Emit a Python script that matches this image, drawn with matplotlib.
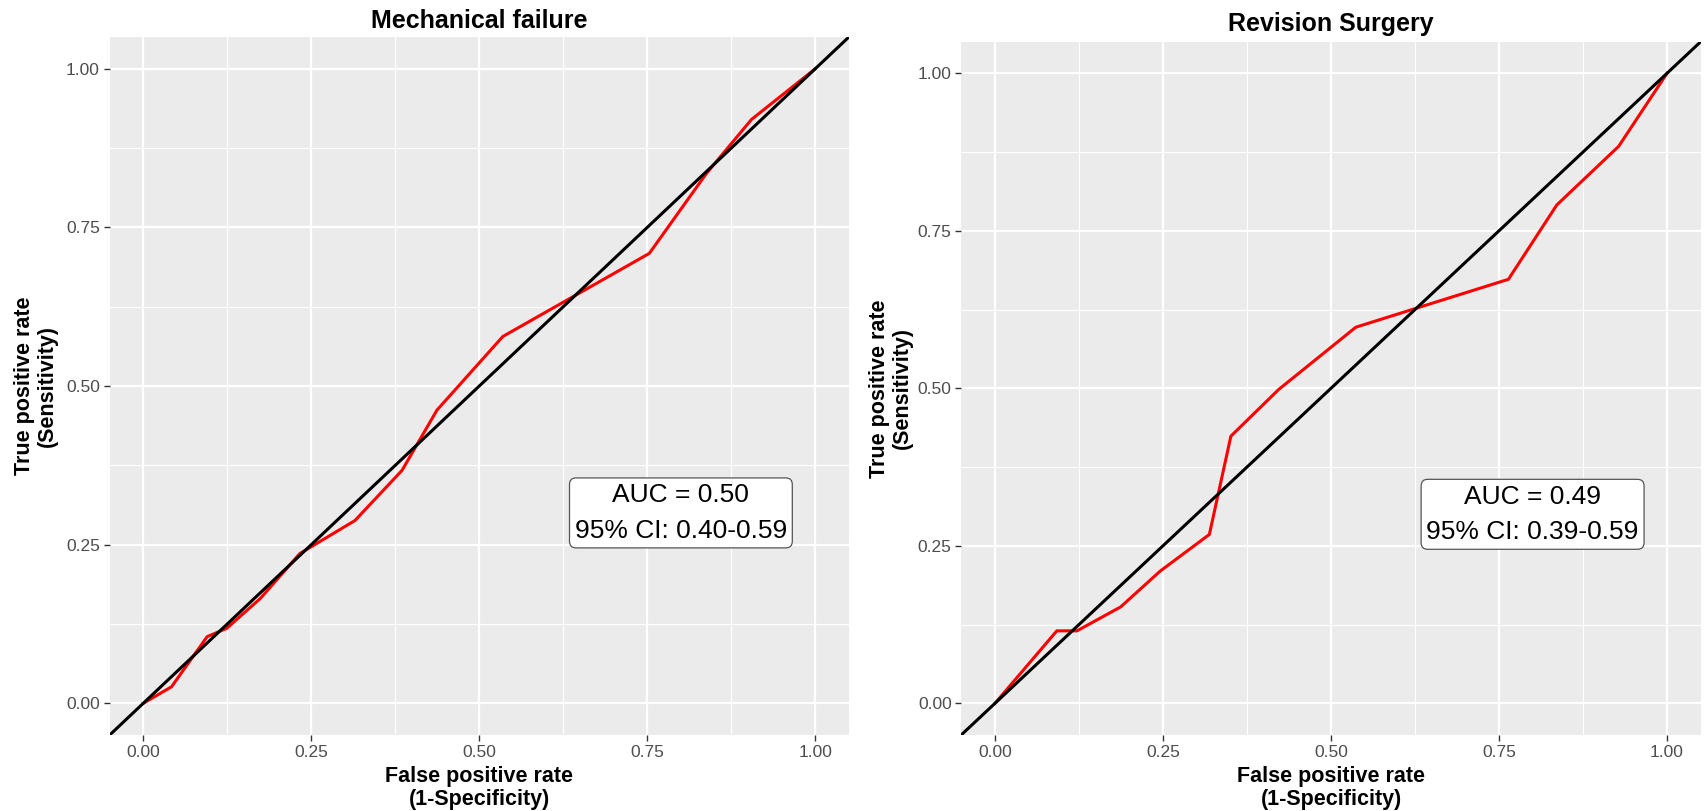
import matplotlib
matplotlib.use("Agg")
import matplotlib.pyplot as plt
import numpy as np

plt.rcParams['font.family'] = ['Liberation Sans', 'DejaVu Sans']

# ---- data ----
titles = ["Mechanical failure", "Revision Surgery"]
mech_fpr = [0.0, 0.042, 0.095, 0.124, 0.174, 0.233, 0.315, 0.385, 0.437, 0.535, 0.753, 0.838, 0.905, 1.0]
mech_tpr = [0.0, 0.026, 0.105, 0.118, 0.165, 0.236, 0.288, 0.367, 0.462, 0.578, 0.709, 0.835, 0.920, 1.0]
rev_fpr = [0.0, 0.092, 0.122, 0.187, 0.246, 0.319, 0.351, 0.422, 0.537, 0.764, 0.836, 0.928, 1.0]
rev_tpr = [0.0, 0.115, 0.115, 0.153, 0.210, 0.268, 0.424, 0.498, 0.597, 0.673, 0.791, 0.884, 1.0]
auc_labels = ["AUC = 0.50\n95% CI: 0.40-0.59", "AUC = 0.49\n95% CI: 0.39-0.59"]
ticks = [0.0, 0.25, 0.5, 0.75, 1.0]
tick_labels = ["0.00", "0.25", "0.50", "0.75", "1.00"]
minor = [0.125, 0.375, 0.625, 0.875]

W, H = 1705, 811
fig = plt.figure(figsize=(W / 100, H / 100), dpi=100)

# panel rects in pixels: left, top, right, bottom
rects = [(109.7, 37.0, 848.9, 735.0), (961.4, 41.8, 1700.6, 734.8)]
ylab_x = [58.0, 913.0]
title_pad = [9, 11]
series = [(mech_fpr, mech_tpr), (rev_fpr, rev_tpr)]

for i in range(2):
    l, t, r, b = rects[i]
    ax = fig.add_axes([l / W, 1 - b / H, (r - l) / W, (b - t) / H])
    ax.set_facecolor('#EBEBEB')
    ax.set_xlim(-0.05, 1.05)
    ax.set_ylim(-0.05, 1.05)
    for s in ax.spines.values():
        s.set_visible(False)
    ax.set_xticks(ticks)
    ax.set_xticklabels(tick_labels)
    ax.set_yticks(ticks)
    ax.set_yticklabels(tick_labels)
    ax.set_xticks(minor, minor=True)
    ax.set_yticks(minor, minor=True)
    ax.tick_params(which='major', length=4, width=1, color='#333333',
                   labelsize=12.5, labelcolor='#4D4D4D', pad=3)
    ax.tick_params(which='minor', length=0)
    ax.grid(which='major', color='white', linewidth=1.6)
    ax.grid(which='minor', color='white', linewidth=0.8)
    ax.set_axisbelow(True)

    fx, ty = series[i]
    ax.plot(fx, ty, color='#FF0000', linewidth=2.2, solid_joinstyle='round', zorder=3)
    ax.axline((0, 0), (1, 1), color='black', linewidth=2.2, zorder=4)

    ax.text(0.80, 0.30, auc_labels[i], ha='center', va='center', fontsize=19,
            linespacing=1.6, color='black', zorder=5,
            bbox=dict(boxstyle='round,pad=0.2,rounding_size=0.25', facecolor='white',
                      edgecolor='#555555', linewidth=0.9))

    ax.set_title(titles[i], fontsize=18, fontweight='bold', pad=title_pad[i] * 0.72)
    ax.set_xlabel("False positive rate\n(1-Specificity)", fontsize=15.5,
                  fontweight='bold', linespacing=1.1)
    ax.set_ylabel("True positive rate\n(Sensitivity)", fontsize=15.5,
                  fontweight='bold', linespacing=1.1)
    axh = b - t
    axw = r - l
    ax.xaxis.set_label_coords(0.5, -(766 - b) / axh)
    ax.yaxis.set_label_coords((ylab_x[i] - l) / axw, 0.5)

fig.savefig("out.png", dpi=100)
